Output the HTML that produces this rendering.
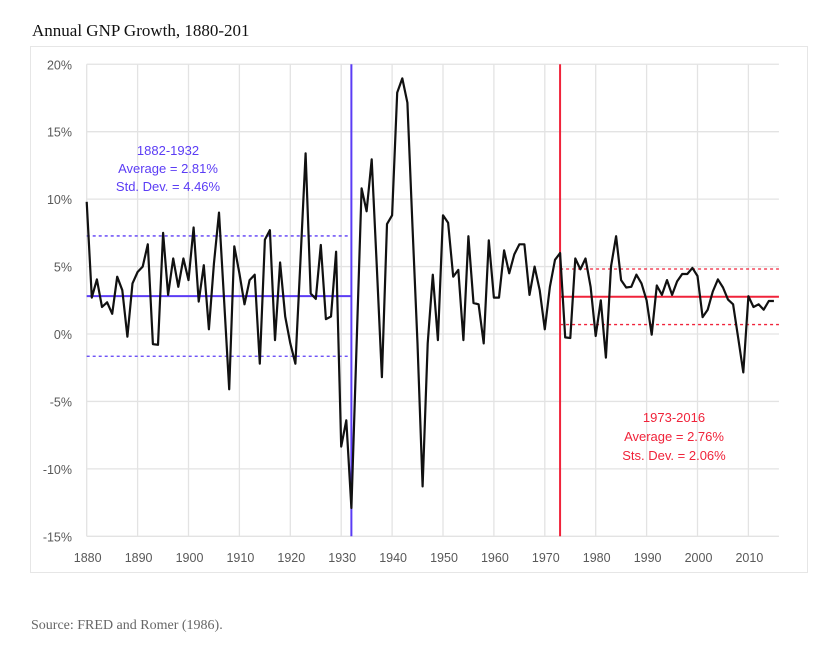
<!DOCTYPE html>
<html><head><meta charset="utf-8"><style>
html,body{margin:0;padding:0;background:#fff;width:828px;height:648px;overflow:hidden}
.t{font-family:"Liberation Serif",serif}
</style></head><body>
<svg id="chart" width="828" height="648" xmlns="http://www.w3.org/2000/svg">
<text class="t" x="32" y="36" font-size="17" fill="#111" font-family="Liberation Serif, serif">Annual GNP Growth, 1880-201</text>
<rect x="30.5" y="46.5" width="777" height="526" fill="#fff" stroke="#e6e6e6"/>
<g id="grid"></g><g id="ticks"></g><g id="refs"></g><g id="series"></g>
<g font-family="Liberation Sans, sans-serif" font-size="13" text-anchor="middle">
<text x="168" y="155" fill="#5b3cf5">1882-1932</text>
<text x="168" y="173" fill="#5b3cf5">Average = 2.81%</text>
<text x="168" y="191" fill="#5b3cf5">Std. Dev. = 4.46%</text>
<text x="674" y="422" fill="#f0233a">1973-2016</text>
<text x="674" y="441" fill="#f0233a">Average = 2.76%</text>
<text x="674" y="460" fill="#f0233a">Sts. Dev. = 2.06%</text>
</g>
<text x="31" y="629" font-size="14" fill="#666" font-family="Liberation Serif, serif">Source: FRED and Romer (1986).</text>
</svg>
<script>
const startYear = 1880;
const growth = [9.8,2.7,4.05,2.0,2.35,1.5,4.25,3.25,-0.2,3.75,
4.6,5.0,6.65,-0.75,-0.8,7.5,2.9,5.6,3.5,5.6,
4.0,7.9,2.4,5.1,0.35,5.2,9.0,2.5,-4.1,6.5,
4.5,2.2,4.0,4.4,-2.2,7.0,7.7,-0.45,5.3,1.3,
-0.7,-2.2,5.5,13.4,3.0,2.6,6.6,1.1,1.3,6.1,
-8.35,-6.4,-12.9,-1.0,10.8,9.1,12.95,5.0,-3.2,8.15,
8.8,17.9,18.95,17.15,7.95,-0.7,-11.3,-0.7,4.4,-0.45,
8.8,8.25,4.25,4.75,-0.45,7.25,2.3,2.2,-0.7,6.95,
2.7,2.7,6.2,4.5,5.9,6.65,6.65,2.9,5.0,3.25,
0.35,3.5,5.5,6.0,-0.25,-0.3,5.6,4.8,5.6,3.5,
-0.15,2.5,-1.75,5.0,7.25,4.0,3.45,3.5,4.4,3.75,
2.5,-0.05,3.6,2.9,4.0,2.9,3.9,4.45,4.45,4.9,
4.3,1.25,1.8,3.15,4.05,3.45,2.55,2.2,-0.3,-2.85,
2.8,2.0,2.2,1.8,2.45,2.45];
const yTicks = [20,15,10,5,0,-5,-10,-15];
const yTickLabels = ["20%","15%","10%","5%","0%","-5%","-10%","-15%"];
const xTicks = [1880,1890,1900,1910,1920,1930,1940,1950,1960,1970,1980,1990,2000,2010];
const early = {from:1880, to:1932, avg:2.81, sd:4.46};
const late = {from:1973, to:2016, avg:2.76, sd:2.06};

const X0=86.7, PX=5.09, Y0=334, PY=13.486;
const xs = y => X0 + (y-1880)*PX;
const ys = v => Y0 - v*PY;
const NS="http://www.w3.org/2000/svg";
function mk(tag, attrs, parent){const e=document.createElementNS(NS,tag);for(const k in attrs)e.setAttribute(k,attrs[k]);parent.appendChild(e);return e;}
const grid=document.getElementById('grid'), ticks=document.getElementById('ticks'), refs=document.getElementById('refs'), series=document.getElementById('series');
const xMax = xs(2016);
yTicks.forEach((v,i)=>{
  const l=mk('line',{x1:X0,x2:xMax,y1:ys(v),y2:ys(v),stroke:'#e3e3e3','stroke-width':1.3},grid);
  
  
  const t=mk('text',{x:72,y:ys(v)+5,'text-anchor':'end','font-size':12.5,fill:'#595959','font-family':'Liberation Sans, sans-serif'},ticks);
  t.textContent=yTickLabels[i];
  
  
});
xTicks.forEach(yr=>{
  const l=mk('line',{x1:xs(yr),x2:xs(yr),y1:ys(20),y2:ys(-15),stroke:'#e3e3e3','stroke-width':1.3},grid);
  
  
  const t=mk('text',{x:xs(yr)+1,y:562,'text-anchor':'middle','font-size':12.5,fill:'#595959','font-family':'Liberation Sans, sans-serif'},ticks);
  t.textContent=yr;
  
  
});
function band(p,color,nm){
  [[p.avg,null],[p.avg+p.sd,'3,3'],[p.avg-p.sd,'3,3']].forEach(([v,d],i)=>{
    const a={x1:xs(p.from),x2:xs(p.to),y1:ys(v),y2:ys(v),stroke:color,'stroke-width':i?1.3:2};
    if(d)a['stroke-dasharray']=d;
    const l=mk('line',a,refs);
    
    
  });
}
band(early,'#5b3cf5','early');
band(late,'#f0233a','late');
let v1=mk('line',{x1:xs(early.to),x2:xs(early.to),y1:ys(20),y2:ys(-15),stroke:'#5b3cf5','stroke-width':2},refs);


let v2=mk('line',{x1:xs(late.from),x2:xs(late.from),y1:ys(20),y2:ys(-15),stroke:'#f0233a','stroke-width':2},refs);


const pts=growth.map((v,i)=>xs(startYear+i).toFixed(1)+','+ys(v).toFixed(1)).join(' ');
const pl=mk('polyline',{points:pts,fill:'none',stroke:'#111','stroke-width':2.2,'stroke-linejoin':'round'},series);


</script>
</body></html>
